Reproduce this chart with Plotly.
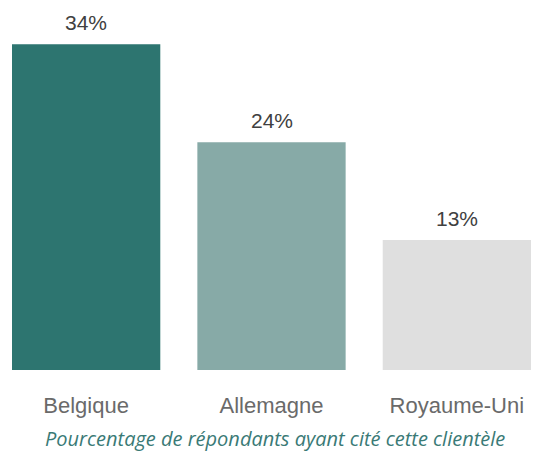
import plotly.graph_objects as go

categories = ["Belgique", "Allemagne", "Royaume-Uni"]
values = [33.6, 23.5, 13.4]
value_labels = ["34%", "24%", "13%"]
colors = ["#2D7570", "#87AAA7", "#DFDFDF"]
caption = "Pourcentage de répondants ayant cité cette clientèle"

fig = go.Figure(go.Bar(x=categories, y=values, marker=dict(color=colors, line=dict(width=0)),
                       hoverinfo="skip"))

for c, v, t in zip(categories, values, value_labels):
    fig.add_annotation(x=c, y=v, text=t, showarrow=False, yanchor="bottom", yshift=8,
                       font=dict(family="Liberation Sans, Arial", size=21, color="#404040"))

fig.add_annotation(x=273 / 538, y=-(438 - 370) / 349, xref="paper", yref="paper",
                   xanchor="center", yanchor="middle",
                   text="<i>" + caption + "</i>", showarrow=False,
                   font=dict(family="Open Sans", size=20, color="#3A7A76"))

fig.update_layout(
    width=538, height=451,
    margin=dict(l=12, r=7, t=21, b=81),
    paper_bgcolor="white", plot_bgcolor="white",
    bargap=0.2,
    showlegend=False,
    xaxis=dict(range=[-0.4, 2.4], showline=False, showgrid=False, zeroline=False, ticks="",
               tickfont=dict(family="Liberation Sans, Arial", size=22, color="#6A6A6A"),
               ticklabelstandoff=20),
    yaxis=dict(range=[0, 36], visible=False),
)

fig.write_html("out.html", config={"displayModeBar": False},
               post_script="document.body.style.margin='0';document.body.style.overflow='hidden';")
